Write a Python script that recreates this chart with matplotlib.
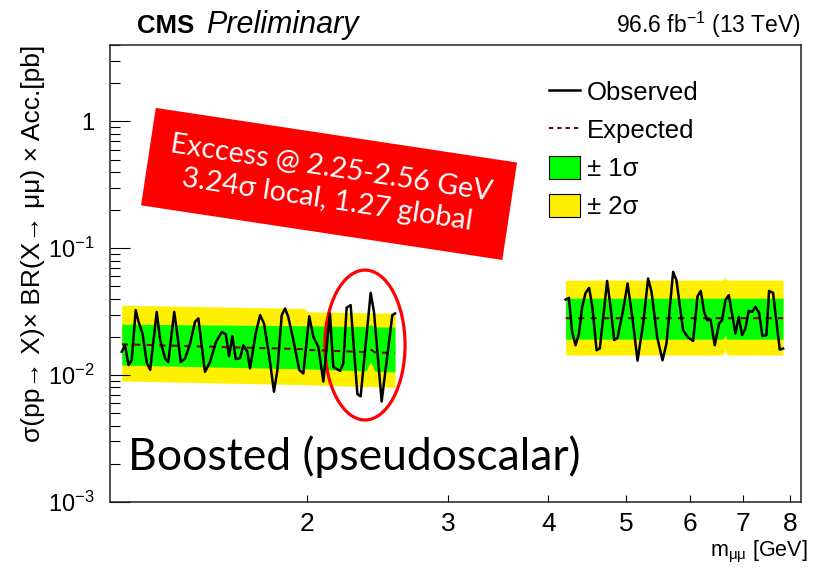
import numpy as np
import matplotlib.pyplot as plt
from matplotlib.lines import Line2D
from matplotlib.patches import Patch, Ellipse
from matplotlib.ticker import FixedLocator, NullFormatter, FixedFormatter

plt.rcParams['font.family'] = ['Liberation Sans', 'DejaVu Sans']
plt.rcParams['mathtext.fontset'] = 'custom'
plt.rcParams['mathtext.rm'] = 'Liberation Sans'
plt.rcParams['mathtext.it'] = 'Liberation Sans:italic'
plt.rcParams['mathtext.bf'] = 'Liberation Sans:bold'

# Limite observée, région basse masse (GeV, pb)
mass_low = [1.175, 1.186, 1.198, 1.209, 1.223, 1.233, 1.247, 1.263, 1.275, 1.299,
            1.312, 1.331, 1.343, 1.366, 1.376, 1.392, 1.409, 1.430, 1.450, 1.464,
            1.492, 1.514, 1.540, 1.566, 1.584, 1.599, 1.614, 1.630, 1.650, 1.666,
            1.685, 1.698, 1.726, 1.748, 1.768, 1.795, 1.819, 1.837, 1.860, 1.878,
            1.895, 1.923, 1.956, 1.979, 2.013, 2.037, 2.066, 2.096, 2.136, 2.157,
            2.199, 2.220, 2.241, 2.267, 2.311, 2.333, 2.401, 2.424, 2.478, 2.555,
            2.575]
obs_low = [0.0153, 0.0172, 0.0120, 0.0131, 0.0325, 0.0263, 0.0213, 0.0124, 0.0110, 0.0315,
           0.0189, 0.0135, 0.0127, 0.0315, 0.0226, 0.0127, 0.0135, 0.0178, 0.0263, 0.0280,
           0.0106, 0.0127, 0.0183, 0.0219, 0.0210, 0.0141, 0.0203, 0.0134, 0.0136, 0.0172,
           0.0153, 0.0113, 0.0213, 0.0297, 0.0255, 0.0139, 0.0074, 0.0110, 0.0297, 0.0335,
           0.0288, 0.0189, 0.0110, 0.0103, 0.0291, 0.0200, 0.0167, 0.0089, 0.0306, 0.0116,
           0.0108, 0.0124, 0.0341, 0.0356, 0.0071, 0.0068, 0.0445, 0.0315, 0.0062, 0.0297,
           0.0306]

# Limite observée, région haute masse
mass_high = [4.202, 4.242, 4.282, 4.324, 4.365, 4.407, 4.450, 4.496, 4.540, 4.593,
             4.636, 4.734, 4.781, 4.831, 4.878, 4.957, 5.020, 5.092, 5.166, 5.250,
             5.325, 5.378, 5.465, 5.550, 5.614, 5.722, 5.777, 5.888, 5.973, 6.060,
             6.137, 6.195, 6.254, 6.308, 6.370, 6.448, 6.529, 6.585, 6.649, 6.713,
             6.843, 6.908, 6.974, 7.042, 7.109, 7.177, 7.247, 7.323, 7.394, 7.480,
             7.536, 7.623, 7.771, 7.845]
obs_high = [0.0394, 0.0406, 0.0219, 0.0172, 0.0210, 0.0345, 0.0445, 0.0487, 0.0335, 0.0157,
            0.0162, 0.0553, 0.0345, 0.0189, 0.0197, 0.0325, 0.0527, 0.0280, 0.0130, 0.0255,
            0.0577, 0.0453, 0.0200, 0.0131, 0.0178, 0.0651, 0.0560, 0.0226, 0.0198, 0.0186,
            0.0419, 0.0461, 0.0315, 0.0271, 0.0275, 0.0172, 0.0255, 0.0271, 0.0390, 0.0427,
            0.0213, 0.0288, 0.0207, 0.0233, 0.0321, 0.0315, 0.0345, 0.0310, 0.0203, 0.0207,
            0.0461, 0.0445, 0.0159, 0.0162]

# Limite attendue et bandes +-1 sigma / +-2 sigma
band_mass_low = [1.175, 1.99, 2.00, 2.37, 2.40, 2.43, 2.575]
exp_low = [0.0175, 0.0160, 0.0158, 0.0152, 0.0160, 0.0151, 0.0149]
up1_low = [0.0252, 0.0245, 0.0245, 0.0241, 0.0250, 0.0240, 0.0239]
dn1_low = [0.0120, 0.0112, 0.0112, 0.0108, 0.0128, 0.0107, 0.0106]
up2_low = [0.0356, 0.0335, 0.0316, 0.0310, 0.0312, 0.0309, 0.0308]
dn2_low = [0.0090, 0.0084, 0.0084, 0.0081, 0.0082, 0.0081, 0.0080]

band_mass_high = [4.202, 6.60, 6.64, 6.68, 7.845]
exp_high = [0.0281, 0.0281, 0.0283, 0.0281, 0.0281]
up1_high = [0.0404, 0.0404, 0.0410, 0.0404, 0.0404]
dn1_high = [0.0192, 0.0192, 0.0205, 0.0192, 0.0192]
up2_high = [0.0560, 0.0560, 0.0590, 0.0560, 0.0560]
dn2_high = [0.0144, 0.0144, 0.0160, 0.0144, 0.0144]

y_ticks = [1e-3, 1e-2, 1e-1, 1]
y_tick_labels = [r'$10^{-3}$', r'$10^{-2}$', r'$10^{-1}$', '1']
x_ticks = [2, 3, 4, 5, 6, 7, 8]

green = '#00ff00'
yellow = '#fff000'
exp_color = '#800000'

fig = plt.figure(figsize=(8.23, 5.72), dpi=100)
ax = fig.add_axes([110/823, 70/572, 691/823, 457/572])

for m, e, u1, d1, u2, d2 in [(band_mass_low, exp_low, up1_low, dn1_low, up2_low, dn2_low),
                             (band_mass_high, exp_high, up1_high, dn1_high, up2_high, dn2_high)]:
    ax.fill_between(m, d2, u2, color=yellow, lw=0)
    ax.fill_between(m, d1, u1, color=green, lw=0)
    ax.plot(m, e, ls=(0, (3, 3)), color=exp_color, lw=1.5)

ax.plot(mass_low, obs_low, color='black', lw=1.8)
ax.plot(mass_high, obs_high, color='black', lw=1.8)

ax.set_xscale('log')
ax.set_yscale('log')
ax.set_xlim(1.136, 8.26)
ax.set_ylim(1e-3, 4)

ax.xaxis.set_major_locator(FixedLocator(x_ticks))
ax.xaxis.set_major_formatter(FixedFormatter([str(t) for t in x_ticks]))
ax.xaxis.set_minor_locator(FixedLocator([]))
ax.xaxis.set_minor_formatter(NullFormatter())
ax.yaxis.set_major_locator(FixedLocator(y_ticks))
ax.yaxis.set_major_formatter(FixedFormatter(y_tick_labels))
minors = [k * 10.0**p for p in range(-3, 1) for k in range(2, 10)]
ax.yaxis.set_minor_locator(FixedLocator(minors))
ax.yaxis.set_minor_formatter(NullFormatter())

ax.tick_params(axis='x', which='major', direction='in', length=5, width=0.8, labelsize=19, pad=7)
ax.tick_params(axis='y', which='major', direction='in', length=14.5, width=0.8, labelsize=17, pad=11)
ax.tick_params(axis='y', which='minor', direction='in', length=7.2, width=0.8)
for s in ax.spines.values():
    s.set_linewidth(1.1)
    s.set_color('#222222')

ax.set_xlabel(r'$\mathrm{m_{μμ}}$ [GeV]', fontsize=15.5, loc='right')
ax.xaxis.set_label_coords(1.01, -0.08)
fig.text(33/823, 1 - 45/572, 'σ(pp→ X)× BR(X→ μμ) × Acc.[pb]', rotation=90,
         ha='center', va='top', fontsize=19)

fig.text(137/823, 1 - 33/572, 'CMS', fontsize=18.5, fontweight='bold')
fig.text(206/823, 1 - 33/572, 'Preliminary', fontsize=22, style='italic')
fig.text(801/823, 1 - 33/572, r'96.6 fb$^{-1}$ (13 TeV)', fontsize=16.5, ha='right')

handles = [Line2D([], [], color='black', lw=1.8),
           Line2D([], [], color=exp_color, lw=1.5, ls=(0, (2, 2))),
           Patch(facecolor=green, edgecolor='black', lw=0.8),
           Patch(facecolor=yellow, edgecolor='black', lw=0.8)]
labels = ['Observed', 'Expected', '± 1σ', '± 2σ']
ax.legend(handles, labels, loc='upper left', bbox_to_anchor=(0.62, 0.945), frameon=False,
          fontsize=18.5, handlelength=1.2, handleheight=0.97, handletextpad=0.3,
          labelspacing=0.5, borderaxespad=0)

# Encadré rouge et ellipse
ax.text(0.317, 0.696, 'Exccess @ 2.25-2.56 GeV\n3.24σ local, 1.27 global', transform=ax.transAxes,
        rotation=-8.6, rotation_mode='anchor', ha='center', va='center', color='white',
        fontsize=20.7, family=['Lato', 'DejaVu Sans'], linespacing=1.3,
        bbox=dict(boxstyle='square,pad=0.7', facecolor='#ff0000', edgecolor='none'))
ax.add_patch(Ellipse((0.369, 0.3435), 0.116, 0.328, transform=ax.transAxes,
                     fill=False, edgecolor='#ff0000', lw=2.3))
ax.text(0.026, 0.07, 'Boosted (pseudoscalar)', transform=ax.transAxes, fontsize=32,
        family=['Lato', 'DejaVu Sans'], color='black')

fig.savefig('out.png', dpi=100)
